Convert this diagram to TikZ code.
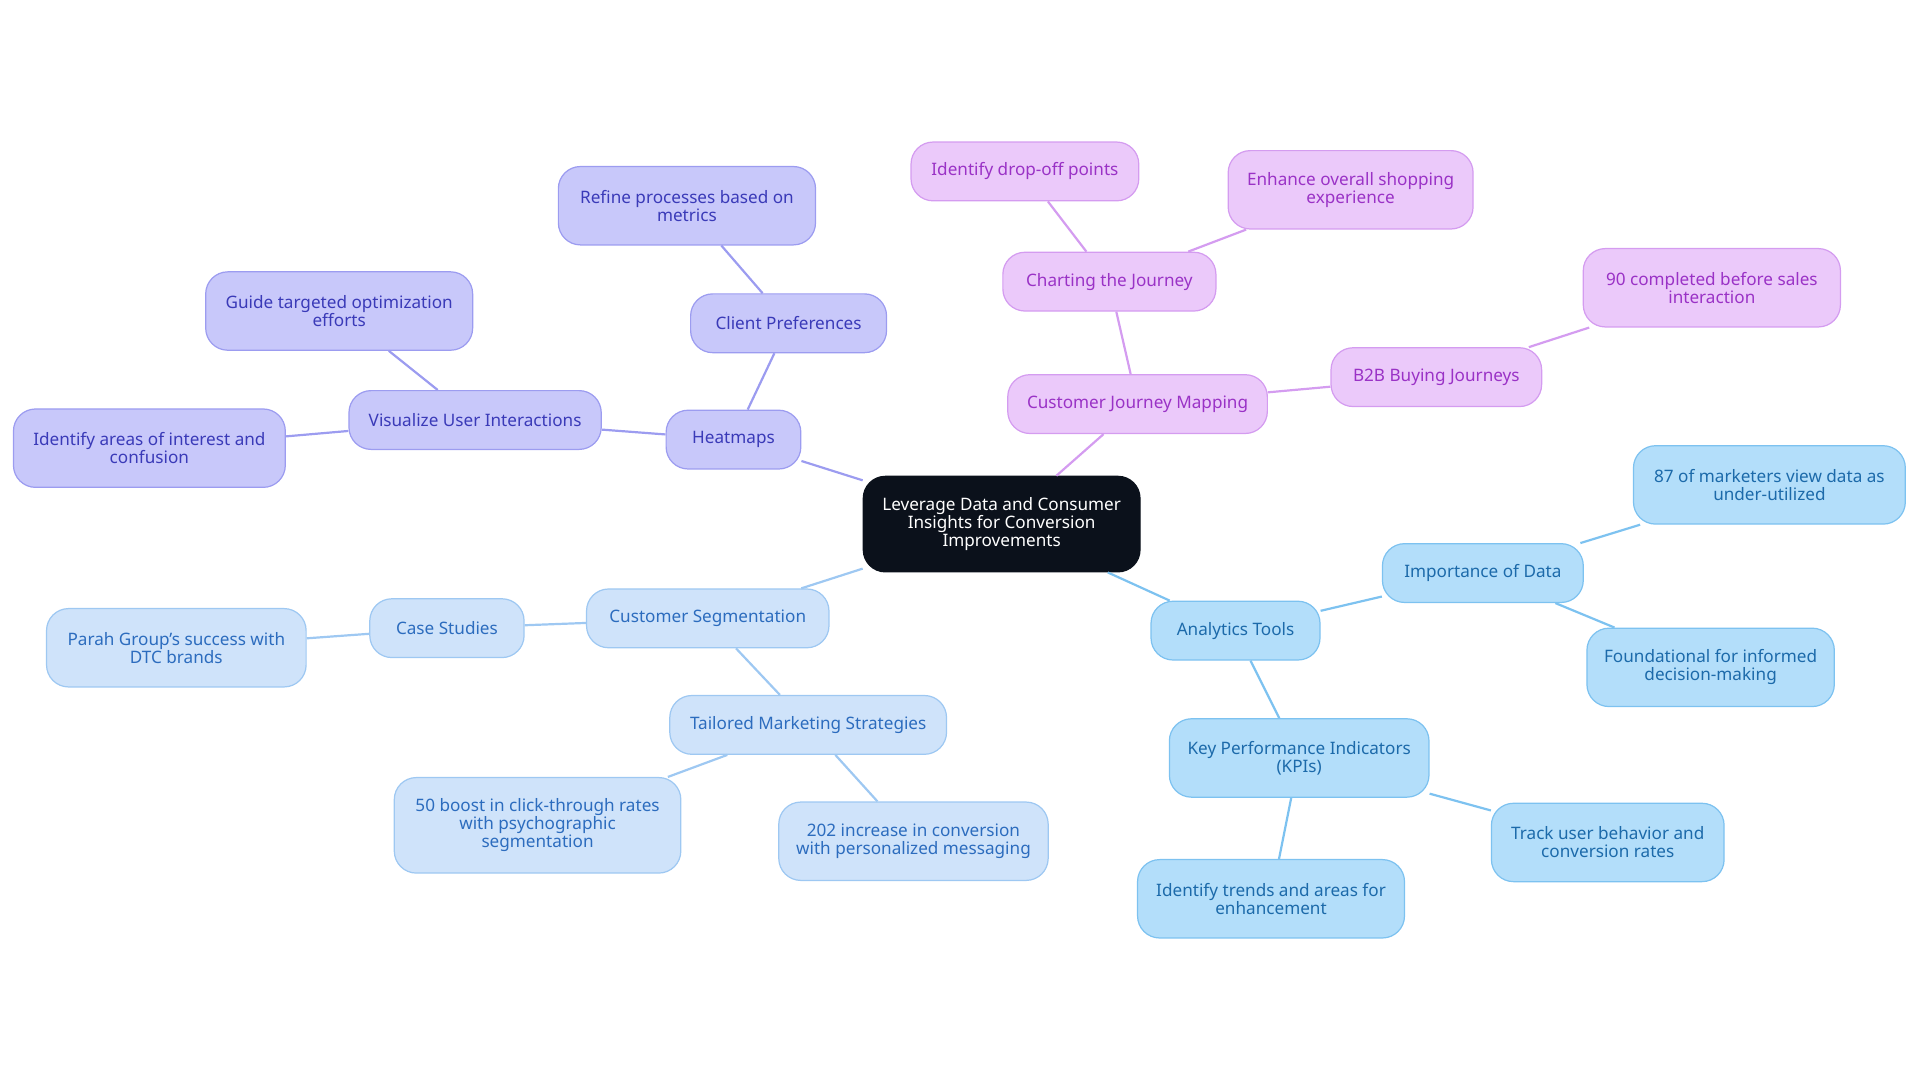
\documentclass[tikz,border=0pt]{standalone}
\usepackage{fontspec}
\setmainfont{Noto Sans}
\definecolor{pf}{HTML}{C8C8FA}\definecolor{pd}{HTML}{9C9CF0}\definecolor{pt}{HTML}{3A3AB8}
\definecolor{kf}{HTML}{EBC9FA}\definecolor{kd}{HTML}{D49CF0}\definecolor{kt}{HTML}{9A32C6}
\definecolor{lf}{HTML}{CFE3FA}\definecolor{ld}{HTML}{9EC8F2}\definecolor{lt}{HTML}{2C6CBE}
\definecolor{cf}{HTML}{B3DEFA}\definecolor{cd}{HTML}{7DC2F0}\definecolor{ct}{HTML}{1C6AAA}
\definecolor{dk}{HTML}{0B111B}
\begin{document}
\begin{tikzpicture}[x=0.5pt,y=-0.5pt,
 box/.style={rounded corners=9pt,align=center,font=\fontsize{7}{7.3}\selectfont,inner sep=0pt,line width=0.5pt},
 pb/.style={box,fill=pf,draw=pd,text=pt},
 kb/.style={box,fill=kf,draw=kd,text=kt},
 lb/.style={box,fill=lf,draw=ld,text=lt},
 cb/.style={box,fill=cf,draw=cd,text=ct},
 pe/.style={draw=pd,line width=0.9pt},
 ke/.style={draw=kd,line width=0.9pt},
 le/.style={draw=ld,line width=0.9pt},
 ce/.style={draw=cd,line width=0.9pt}]
\useasboundingbox (0,0) rectangle (1568,884);
\newcommand{\nd}[6]{\node[#1,minimum width=#4*0.5pt,minimum height=#5*0.5pt] (#6) at (#2,#3) {};}
\node[box,fill=dk,text=white,draw=dk,minimum width=113pt,minimum height=39pt] (c) at (818,428) {Leverage Data and Consumer\\Insights for Conversion\\Improvements};
\node[pb,minimum width=55pt,minimum height=24pt] (hm) at (599,359) {Heatmaps};
\node[pb,minimum width=103pt,minimum height=24pt] (vu) at (388,343) {Visualize User Interactions};
\node[pb,minimum width=109pt,minimum height=32pt] (gt) at (277,254) {Guide targeted optimization\\efforts};
\node[pb,minimum width=111pt,minimum height=32pt] (ia) at (122,366) {Identify areas of interest and\\confusion};
\node[pb,minimum width=80pt,minimum height=24pt] (cp) at (644,264) {Client Preferences};
\node[pb,minimum width=105pt,minimum height=32pt] (rp) at (561,168) {Refine processes based on\\metrics};
\node[kb,minimum width=106pt,minimum height=24pt] (cj) at (929,330) {Customer Journey Mapping};
\node[kb,minimum width=87pt,minimum height=24pt] (ch) at (906,230) {Charting the Journey};
\node[kb,minimum width=93pt,minimum height=24pt] (id) at (837,140) {Identify drop-off points};
\node[kb,minimum width=100pt,minimum height=32pt] (en) at (1103,155) {Enhance overall shopping\\experience};
\node[kb,minimum width=86pt,minimum height=24pt] (b2) at (1173,308) {B2B Buying Journeys};
\node[kb,minimum width=105pt,minimum height=32pt] (n90) at (1398,235) {90 completed before sales\\interaction};
\node[cb,minimum width=69pt,minimum height=24pt] (at) at (1009,515) {Analytics Tools};
\node[cb,minimum width=82pt,minimum height=24pt] (imp) at (1211,468) {Importance of Data};
\node[cb,minimum width=111pt,minimum height=32pt] (n87) at (1445,396) {87 of marketers view data as\\under-utilized};
\node[cb,minimum width=101pt,minimum height=32pt] (fd) at (1397,545) {Foundational for informed\\decision-making};
\node[cb,minimum width=106pt,minimum height=32pt] (kpi) at (1061,619) {Key Performance Indicators\\(KPIs)};
\node[cb,minimum width=95pt,minimum height=32pt] (tu) at (1313,688) {Track user behavior and\\conversion rates};
\node[cb,minimum width=109pt,minimum height=32pt] (it) at (1038,734) {Identify trends and areas for\\enhancement};
\node[lb,minimum width=99pt,minimum height=24pt] (cs) at (578,505) {Customer Segmentation};
\node[lb,minimum width=63pt,minimum height=24pt] (st) at (365,513) {Case Studies};
\node[lb,minimum width=106pt,minimum height=32pt] (pg) at (144,529) {Parah Group's success with\\DTC brands};
\node[lb,minimum width=113pt,minimum height=24pt] (tm) at (660,592) {Tailored Marketing Strategies};
\node[lb,minimum width=117pt,minimum height=39pt] (n50) at (439,674) {50 boost in click-through rates\\with psychographic\\segmentation};
\node[lb,minimum width=110pt,minimum height=32pt] (n202) at (746,687) {202 increase in conversion\\with personalized messaging};
\draw[pe] (c)--(hm) (hm)--(vu) (vu)--(gt) (vu)--(ia) (hm)--(cp) (cp)--(rp);
\draw[ke] (c)--(cj) (cj)--(ch) (ch)--(id) (ch)--(en) (cj)--(b2) (b2)--(n90);
\draw[ce] (c)--(at) (at)--(imp) (imp)--(n87) (imp)--(fd) (at)--(kpi) (kpi)--(tu) (kpi)--(it);
\draw[le] (c)--(cs) (cs)--(st) (st)--(pg) (cs)--(tm) (tm)--(n50) (tm)--(n202);
\end{tikzpicture}
\end{document}
